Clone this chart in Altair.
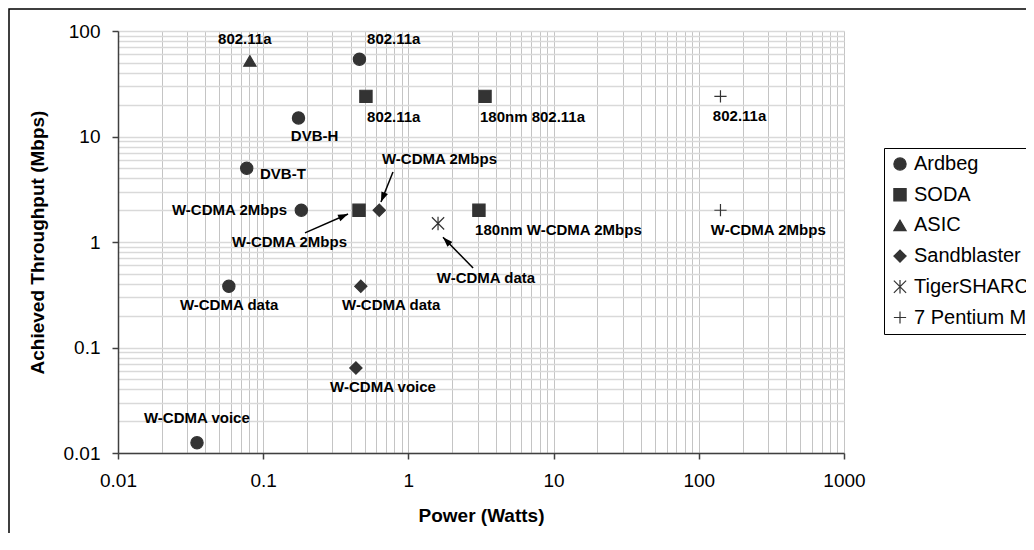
import math
import altair as alt
import pandas as pd

# ---------------- data ----------------
series = ["Ardbeg"] * 6 + ["SODA"] * 4 + ["ASIC"] + ["Sandblaster"] * 3 + ["TigerSHARC"] + ["7 Pentium M"] * 2
power = [0.46, 0.175, 0.077, 0.183, 0.058, 0.035,
         0.51, 3.37, 0.457, 3.06,
         0.081,
         0.63, 0.47, 0.435,
         1.6,
         141, 141]
throughput = [54, 15, 5, 2, 0.38, 0.0125,
              24, 24, 2, 2,
              52,
              2, 0.38, 0.064,
              1.5,
              24, 2]

label_text = ["802.11a", "802.11a", "802.11a", "180nm 802.11a", "DVB-H", "DVB-T",
              "W-CDMA 2Mbps", "W-CDMA 2Mbps", "W-CDMA 2Mbps", "W-CDMA data",
              "180nm W-CDMA 2Mbps", "802.11a", "W-CDMA 2Mbps", "W-CDMA data",
              "W-CDMA data", "W-CDMA voice", "W-CDMA voice"]
label_x = [0.0489, 0.519, 0.519, 3.11, 0.155, 0.0951,
           0.02355, 0.061, 0.658, 1.57,
           2.88, 125, 121, 0.0267,
           0.349, 0.289, 0.0151]
label_y = [84, 84, 15.3, 15.3, 10.1, 4.42,
           2.0, 1.0, 6.12, 0.456,
           1.30, 15.7, 1.30, 0.253,
           0.253, 0.0422, 0.0215]

arrow_x1 = [0.194, 0.783, 2.79]
arrow_y1 = [1.22, 4.6, 0.567]
arrow_x2 = [0.384, 0.647, 1.73]
arrow_y2 = [1.84, 2.39, 1.11]

series_order = ["Ardbeg", "SODA", "ASIC", "Sandblaster", "TigerSHARC", "7 Pentium M"]
x_ticks = [float(f"{m}e{e}") for e in range(-2, 3) for m in range(1, 10)] + [1000.0]
y_ticks = [float(f"{m}e{e}") for e in range(-2, 2) for m in range(1, 10)] + [100.0]

# ---------------- layout / style ----------------
W, H = 726, 422
FONT = "Liberation Sans"
INK = "#333333"
DECADE_X = W / 5.0
DECADE_Y = H / 4.0

is_decade = "abs(log(datum.value)/LN10 - round(log(datum.value)/LN10)) < 1e-6"

pts = pd.DataFrame({"series": series, "x": power, "y": throughput})
lbl = pd.DataFrame({"text": label_text, "x": label_x, "y": label_y})
angles = []
for a, b, c, d in zip(arrow_x1, arrow_y1, arrow_x2, arrow_y2):
    dx = DECADE_X * math.log10(c / a)
    dy = -DECADE_Y * math.log10(d / b)
    angles.append(math.degrees(math.atan2(dx, -dy)) % 360)
arr = pd.DataFrame({"x": arrow_x1, "y": arrow_y1, "x2": arrow_x2, "y2": arrow_y2})
heads = pd.DataFrame({"x": arrow_x2, "y": arrow_y2, "ang": angles})


def log_axis(values, title, grid_color, grid_width):
    return alt.Axis(
        values=values, title=title, grid=True, gridColor=grid_color, gridWidth=grid_width,
        tickColor="#404040", tickSize=6, tickWidth=1.5,
        tickOpacity={"condition": {"test": is_decade, "value": 1}, "value": 0},
        labelExpr=f"({is_decade}) ? format(datum.value, '~g') : ''",
        labelOverlap=False, labelFlush=False, labelFont=FONT, labelFontSize=19,
        labelColor="black", labelPadding=12, domainColor="#404040", domainWidth=1.5,
        titleFont=FONT, titleFontSize=19, titleFontWeight="bold", titleColor="black",
        titlePadding=16,
    )


x_enc = alt.X("x:Q", scale=alt.Scale(type="log", domain=[0.01, 1000], nice=False),
              axis=log_axis(x_ticks, "Power (Watts)", "#c4c4c4", 1))
y_enc = alt.Y("y:Q", scale=alt.Scale(type="log", domain=[0.01, 100], nice=False),
              axis=log_axis(y_ticks, "Achieved Throughput (Mbps)", "#d9d9d9", 1.5))

shape_range = ["circle", "square", "triangle-up", "diamond",
               "M-1,-1L1,1M-1,1L1,-1M0,-1.1L0,1.1",
               "M-1,0L1,0M0,-1L0,1"]
fill_range = [INK, INK, INK, INK, "transparent", "transparent"]
stroke_range = [INK] * 6

legend = alt.Legend(
    title=None, orient="none", legendX=884 - 118, legendY=148 - 31,
    labelFont=FONT, labelFontSize=20, labelColor="black", labelOffset=4,
    symbolSize=150, symbolStrokeWidth=1.2, rowPadding=10.7, padding=6,
    strokeColor="black", fillColor="white", cornerRadius=0,
)

points = alt.Chart(pts).mark_point(filled=False, opacity=1, size=150, strokeWidth=1.2).encode(
    x=x_enc, y=y_enc,
    shape=alt.Shape("series:N", scale=alt.Scale(domain=series_order, range=shape_range), legend=legend),
    fill=alt.Fill("series:N", scale=alt.Scale(domain=series_order, range=fill_range), legend=legend),
    stroke=alt.Stroke("series:N", scale=alt.Scale(domain=series_order, range=stroke_range), legend=legend),
)

labels = alt.Chart(lbl).mark_text(
    align="left", baseline="middle", font=FONT, fontSize=15, fontWeight="bold", color="black"
).encode(x=x_enc, y=y_enc, text="text:N")

rules = alt.Chart(arr).mark_rule(color="black", strokeWidth=1.5).encode(
    x=x_enc, y=y_enc, x2="x2:Q", y2="y2:Q"
)

arrowheads = alt.Chart(heads).mark_point(
    shape="M0,0L0.7,2L-0.7,2Z", filled=True, color="black", size=100, opacity=1
).encode(x=x_enc, y=y_enc, angle=alt.Angle("ang:Q", scale=None))

frame = alt.Chart(pd.DataFrame({"k": [0]})).mark_rect(
    fill="transparent", stroke="black", strokeWidth=1.5
).encode(x=alt.value(-109), x2=alt.value(3000), y=alt.value(-22), y2=alt.value(3000))

chart = alt.layer(frame, points, rules, arrowheads, labels).properties(
    width=W, height=H,
    autosize=alt.AutoSizeParams(type="none"),
    padding={"left": 110, "top": 23, "right": 182, "bottom": 80},
).configure_view(stroke="#707070", strokeWidth=1).configure(background="white")

chart.save("out.html", embed_options={"renderer": "svg", "actions": False})
